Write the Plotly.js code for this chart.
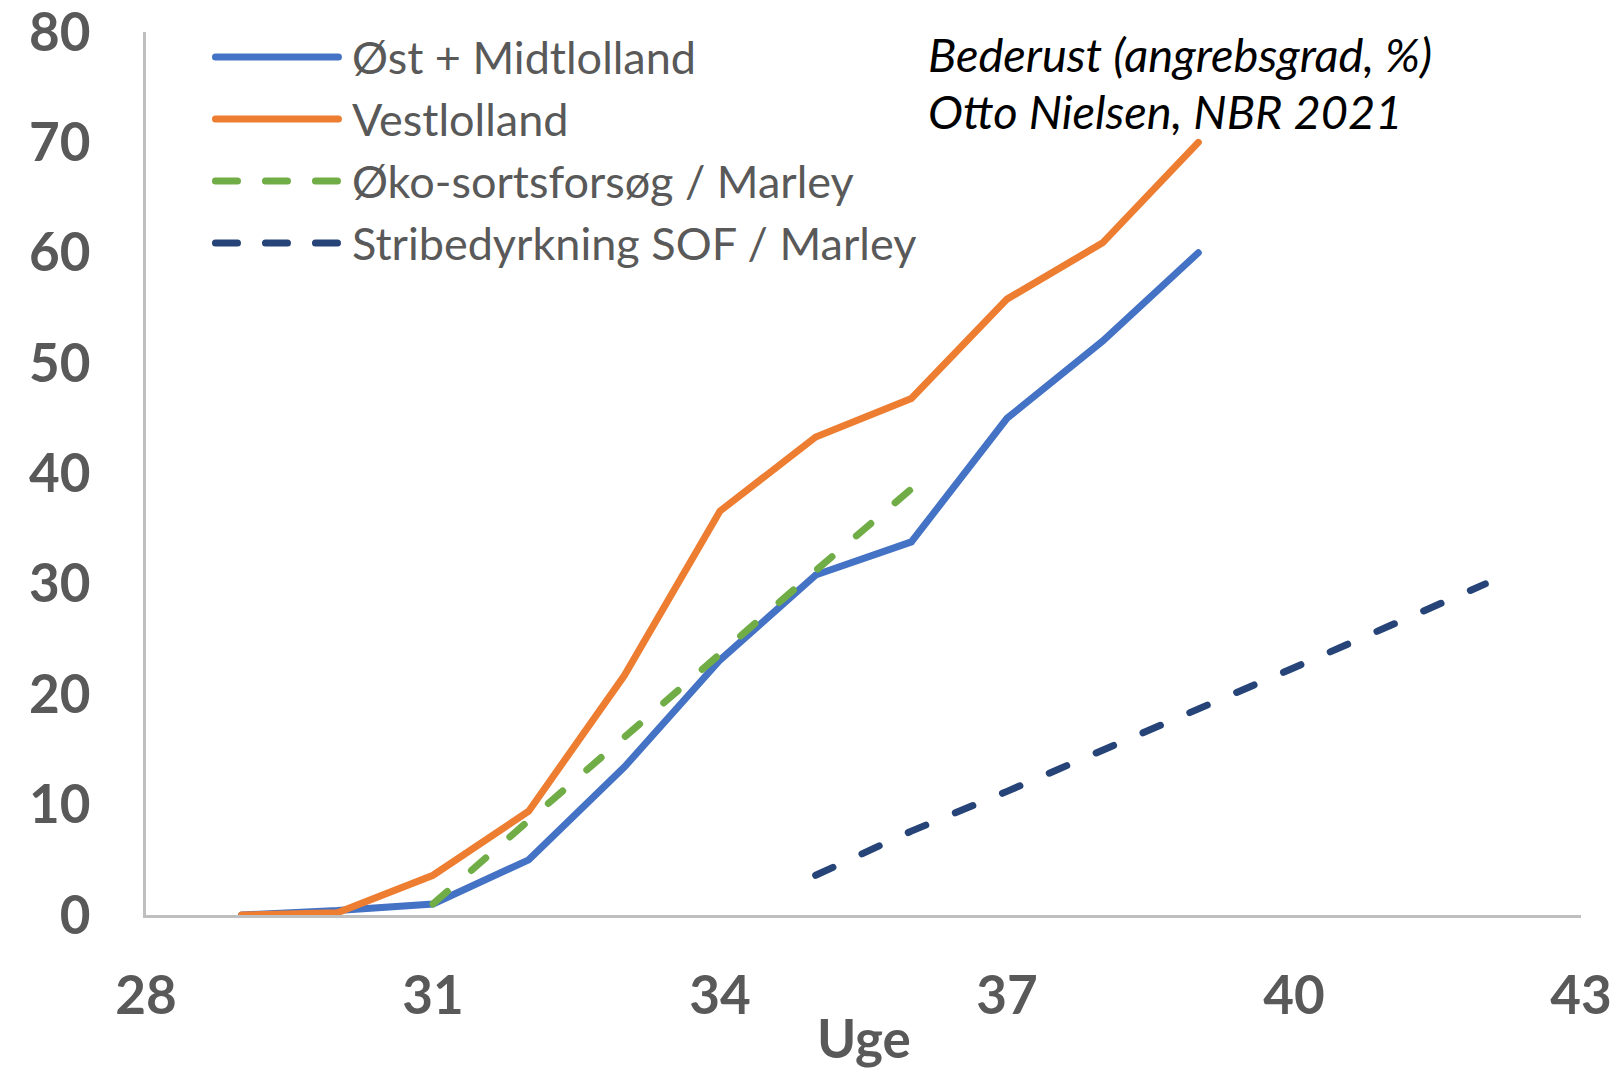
<!DOCTYPE html>
<html>
<head>
<meta charset="utf-8">
<script src="https://cdn.plot.ly/plotly-3.0.1.min.js"></script>
<style>
html,body{margin:0;padding:0;background:#fff;}
#chart{width:1618px;height:1073px;}
#chart path.js-line, #chart .shapelayer path{stroke-linecap:round;}
</style>
</head>
<body>
<div id="chart"></div>
<script>
const weeksA = [29, 30, 31, 32, 33, 34, 35, 36, 37, 38, 39];
const ostMidtlolland = [0, 0.4, 1.0, 5.0, 13.4, 23.1, 30.8, 33.8, 45.0, 52.0, 60.0];
const vestlolland = [0, 0.2, 3.6, 9.4, 21.7, 36.6, 43.3, 46.8, 55.8, 60.9, 70.0];
const weeksOko = [31, 32, 33, 34, 35, 36];
const okoSortsforsog = [1.0, 8.6, 16.2, 23.7, 31.2, 38.6];
const weeksStribe = [35, 36, 37, 38, 39, 40, 41, 42];
const stribedyrkning = [3.6, 7.6, 11.2, 14.9, 18.7, 22.4, 26.2, 30.0];
const seriesNames = ['Øst + Midtlolland', 'Vestlolland', 'Øko-sortsforsøg / Marley', 'Stribedyrkning SOF / Marley'];
const xTicks = [28, 31, 34, 37, 40, 43];
const yTicks = [0, 10, 20, 30, 40, 50, 60, 70, 80];
const noteLines = ['Bederust (angrebsgrad, %)', 'Otto Nielsen, NBR 2021'];

const colors = ['#4472C4', '#ED7D31', '#70AD47', '#264478'];
const W = 7;
const plotDash = '19px,32px';
const legendDash = '22px,28px';

const traces = [
  {x: weeksA, y: ostMidtlolland, name: seriesNames[0]},
  {x: weeksA, y: vestlolland, name: seriesNames[1]},
  {x: weeksOko, y: okoSortsforsog, name: seriesNames[2]},
  {x: weeksStribe, y: stribedyrkning, name: seriesNames[3]}
].map((t, i) => Object.assign(t, {
  type: 'scatter', mode: 'lines', showlegend: false, hoverinfo: 'skip',
  line: {color: colors[i], width: W, dash: i < 2 ? 'solid' : plotDash}
}));

// Custom legend (paper coordinates, converted from pixels)
const L = 145.5, R = 1581, T = 32, B = 915;
const pw = R - L, ph = B - T;
const px = v => (v - L) / pw;
const py = v => (B - v) / ph;
const legendRows = [57, 119, 181, 243];
const shapes = [];
const annotations = [];
seriesNames.forEach((n, i) => {
  shapes.push({type: 'line', xref: 'paper', yref: 'paper',
    x0: px(215), x1: px(338), y0: py(legendRows[i]), y1: py(legendRows[i]),
    line: {color: colors[i], width: W, dash: i < 2 ? 'solid' : legendDash}});
  annotations.push({xref: 'paper', yref: 'paper', x: px(350), y: py(legendRows[i]),
    xanchor: 'left', yanchor: 'middle', showarrow: false, text: n,
    font: {family: 'Lato, sans-serif', size: 45, color: '#595959'}});
});
noteLines.forEach((t, i) => {
  annotations.push({xref: 'paper', yref: 'paper', x: px(926), y: py([54, 111][i]),
    xanchor: 'left', yanchor: 'middle', showarrow: false, text: '<i>' + t + '</i>',
    font: {family: 'Lato, sans-serif', size: 47, color: '#000000'}});
});
annotations.push({xref: 'paper', yref: 'paper', x: 0.5, y: py(1037),
  xanchor: 'center', yanchor: 'middle', showarrow: false, text: '<b>Uge</b>',
  font: {family: 'Lato, sans-serif', size: 53, color: '#595959'}});

const layout = {
  width: 1618, height: 1073,
  margin: {l: L, r: 1618 - R, t: T, b: 1073 - B, pad: 0},
  paper_bgcolor: '#ffffff', plot_bgcolor: '#ffffff',
  showlegend: false,
  xaxis: {
    range: [28, 43], tickvals: xTicks, ticktext: xTicks.map(String),
    showgrid: false, zeroline: false, showline: true, linecolor: '#BFBFBF', linewidth: 3,
    ticks: 'outside', ticklen: 32, tickcolor: 'rgba(0,0,0,0)', ticklabeloverflow: 'allow',
    tickfont: {family: 'Lato, sans-serif', size: 53, color: '#595959', weight: 'bold'}
  },
  yaxis: {
    range: [0, 80], tickvals: yTicks, ticktext: yTicks.map(String),
    showgrid: false, zeroline: false, showline: true, linecolor: '#BFBFBF', linewidth: 3,
    ticks: 'outside', ticklen: 42, tickcolor: 'rgba(0,0,0,0)', ticklabeloverflow: 'allow',
    tickfont: {family: 'Lato, sans-serif', size: 53, color: '#595959', weight: 'bold'}
  },
  shapes: shapes,
  annotations: annotations
};

Plotly.newPlot('chart', traces, layout, {staticPlot: true, displayModeBar: false});
</script>
</body>
</html>
